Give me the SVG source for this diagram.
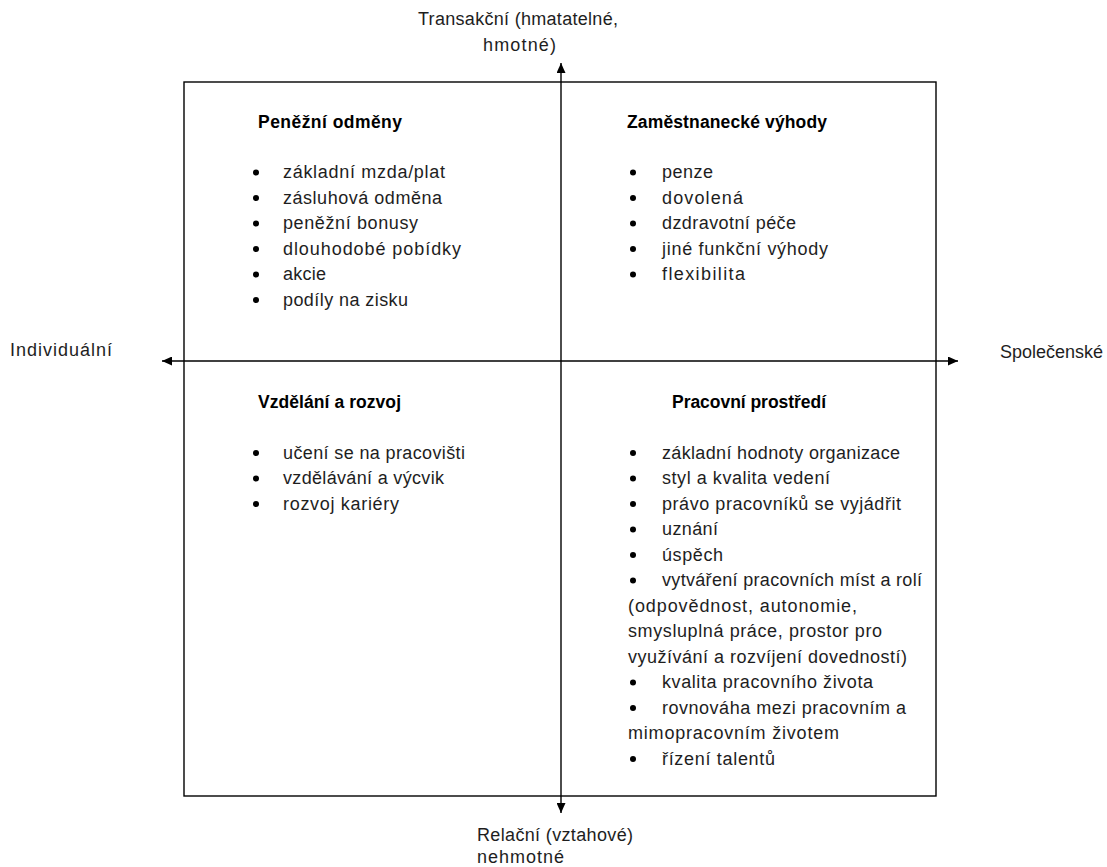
<svg xmlns="http://www.w3.org/2000/svg" width="1107" height="867" viewBox="0 0 1107 867">
<style>
text{font-family:"Liberation Sans",Arial,sans-serif;font-size:18px;fill:#1e1e1e}
.t{font-weight:bold;fill:#000;font-size:17.5px}
.b{fill:#000}
.ln{stroke:#000;stroke-width:1.4;fill:none}
</style>
<defs>
<marker id="ah" markerUnits="userSpaceOnUse" markerWidth="11" markerHeight="9" refX="10" refY="4.5" orient="auto-start-reverse">
<path d="M0,0 L10,4.5 L0,9 z" fill="#000"/>
</marker>
</defs>
<rect width="1107" height="867" fill="#fff"/>
<g id="frame"><rect class="ln" x="184" y="82" width="752" height="714"/></g>
<g id="connectors">
<line class="ln" x1="561" y1="63" x2="561" y2="813" marker-start="url(#ah)" marker-end="url(#ah)"/>
<line class="ln" x1="162" y1="361" x2="958" y2="361" marker-start="url(#ah)" marker-end="url(#ah)"/>
</g>
<g id="axis-top">
<text x="418" y="25" textLength="200" lengthAdjust="spacing">Transakční (hmatatelné,</text>
<text x="483" y="51" textLength="73" lengthAdjust="spacing">hmotné)</text>
</g>
<g id="axis-bottom">
<text x="477" y="841" textLength="156" lengthAdjust="spacing">Relační (vztahové)</text>
<text x="477" y="863" textLength="87" lengthAdjust="spacing">nehmotné</text>
</g>
<g id="axis-left"><text x="10" y="356" textLength="102" lengthAdjust="spacing">Individuální</text></g>
<g id="axis-right"><text x="1000" y="358" textLength="103" lengthAdjust="spacing">Společenské</text></g>
<g id="q1">
<text class="t" x="258" y="128" textLength="144" lengthAdjust="spacing">Peněžní odměny</text>
<circle class="b" cx="256" cy="172.5" r="3"/><text x="283" y="178" textLength="162" lengthAdjust="spacing">základní mzda/plat</text>
<circle class="b" cx="256" cy="198" r="3"/><text x="283" y="203.5" textLength="159" lengthAdjust="spacing">zásluhová odměna</text>
<circle class="b" cx="256" cy="223.5" r="3"/><text x="283" y="229" textLength="135" lengthAdjust="spacing">peněžní bonusy</text>
<circle class="b" cx="256" cy="249" r="3"/><text x="283" y="254.5" textLength="178" lengthAdjust="spacing">dlouhodobé pobídky</text>
<circle class="b" cx="256" cy="274.5" r="3"/><text x="283" y="280" textLength="43" lengthAdjust="spacing">akcie</text>
<circle class="b" cx="256" cy="300" r="3"/><text x="283" y="305.5" textLength="125" lengthAdjust="spacing">podíly na zisku</text>
</g>
<g id="q2">
<text class="t" x="627" y="128" textLength="200" lengthAdjust="spacing">Zaměstnanecké výhody</text>
<circle class="b" cx="633" cy="172.5" r="3"/><text x="662" y="178" textLength="51" lengthAdjust="spacing">penze</text>
<circle class="b" cx="633" cy="198" r="3"/><text x="662" y="203.5" textLength="81" lengthAdjust="spacing">dovolená</text>
<circle class="b" cx="633" cy="223.5" r="3"/><text x="662" y="229" textLength="134" lengthAdjust="spacing">dzdravotní péče</text>
<circle class="b" cx="633" cy="249" r="3"/><text x="662" y="254.5" textLength="166" lengthAdjust="spacing">jiné funkční výhody</text>
<circle class="b" cx="633" cy="274.5" r="3"/><text x="662" y="280" textLength="83" lengthAdjust="spacing">flexibilita</text>
</g>
<g id="q3">
<text class="t" x="258" y="408" textLength="143" lengthAdjust="spacing">Vzdělání a rozvoj</text>
<circle class="b" cx="256" cy="453" r="3"/><text x="283" y="458.5" textLength="182" lengthAdjust="spacing">učení se na pracovišti</text>
<circle class="b" cx="256" cy="478.5" r="3"/><text x="283" y="484" textLength="161" lengthAdjust="spacing">vzdělávání a výcvik</text>
<circle class="b" cx="256" cy="504" r="3"/><text x="283" y="509.5" textLength="116" lengthAdjust="spacing">rozvoj kariéry</text>
</g>
<g id="q4">
<text class="t" x="672" y="408" textLength="154" lengthAdjust="spacing">Pracovní prostředí</text>
<circle class="b" cx="633" cy="453" r="3"/><text x="662" y="458.5" textLength="238" lengthAdjust="spacing">základní hodnoty organizace</text>
<circle class="b" cx="633" cy="478.5" r="3"/><text x="662" y="484" textLength="168" lengthAdjust="spacing">styl a kvalita vedení</text>
<circle class="b" cx="633" cy="504" r="3"/><text x="662" y="509.5" textLength="239" lengthAdjust="spacing">právo pracovníků se vyjádřit</text>
<circle class="b" cx="633" cy="529.5" r="3"/><text x="662" y="535" textLength="56" lengthAdjust="spacing">uznání</text>
<circle class="b" cx="633" cy="555" r="3"/><text x="662" y="560.5" textLength="61" lengthAdjust="spacing">úspěch</text>
<circle class="b" cx="633" cy="580.5" r="3"/><text x="662" y="586" textLength="260" lengthAdjust="spacing">vytváření pracovních míst a rolí</text>
<text x="628" y="611.5" textLength="229" lengthAdjust="spacing">(odpovědnost, autonomie,</text>
<text x="628" y="637" textLength="254" lengthAdjust="spacing">smysluplná práce, prostor pro</text>
<text x="628" y="662.5" textLength="279" lengthAdjust="spacing">využívání a rozvíjení dovedností)</text>
<circle class="b" cx="633" cy="682.5" r="3"/><text x="662" y="688" textLength="211" lengthAdjust="spacing">kvalita pracovního života</text>
<circle class="b" cx="633" cy="708" r="3"/><text x="662" y="713.5" textLength="244" lengthAdjust="spacing">rovnováha mezi pracovním a</text>
<text x="628" y="739" textLength="211" lengthAdjust="spacing">mimopracovním životem</text>
<circle class="b" cx="633" cy="759" r="3"/><text x="662" y="764.5" textLength="113" lengthAdjust="spacing">řízení talentů</text>
</g>
</svg>
